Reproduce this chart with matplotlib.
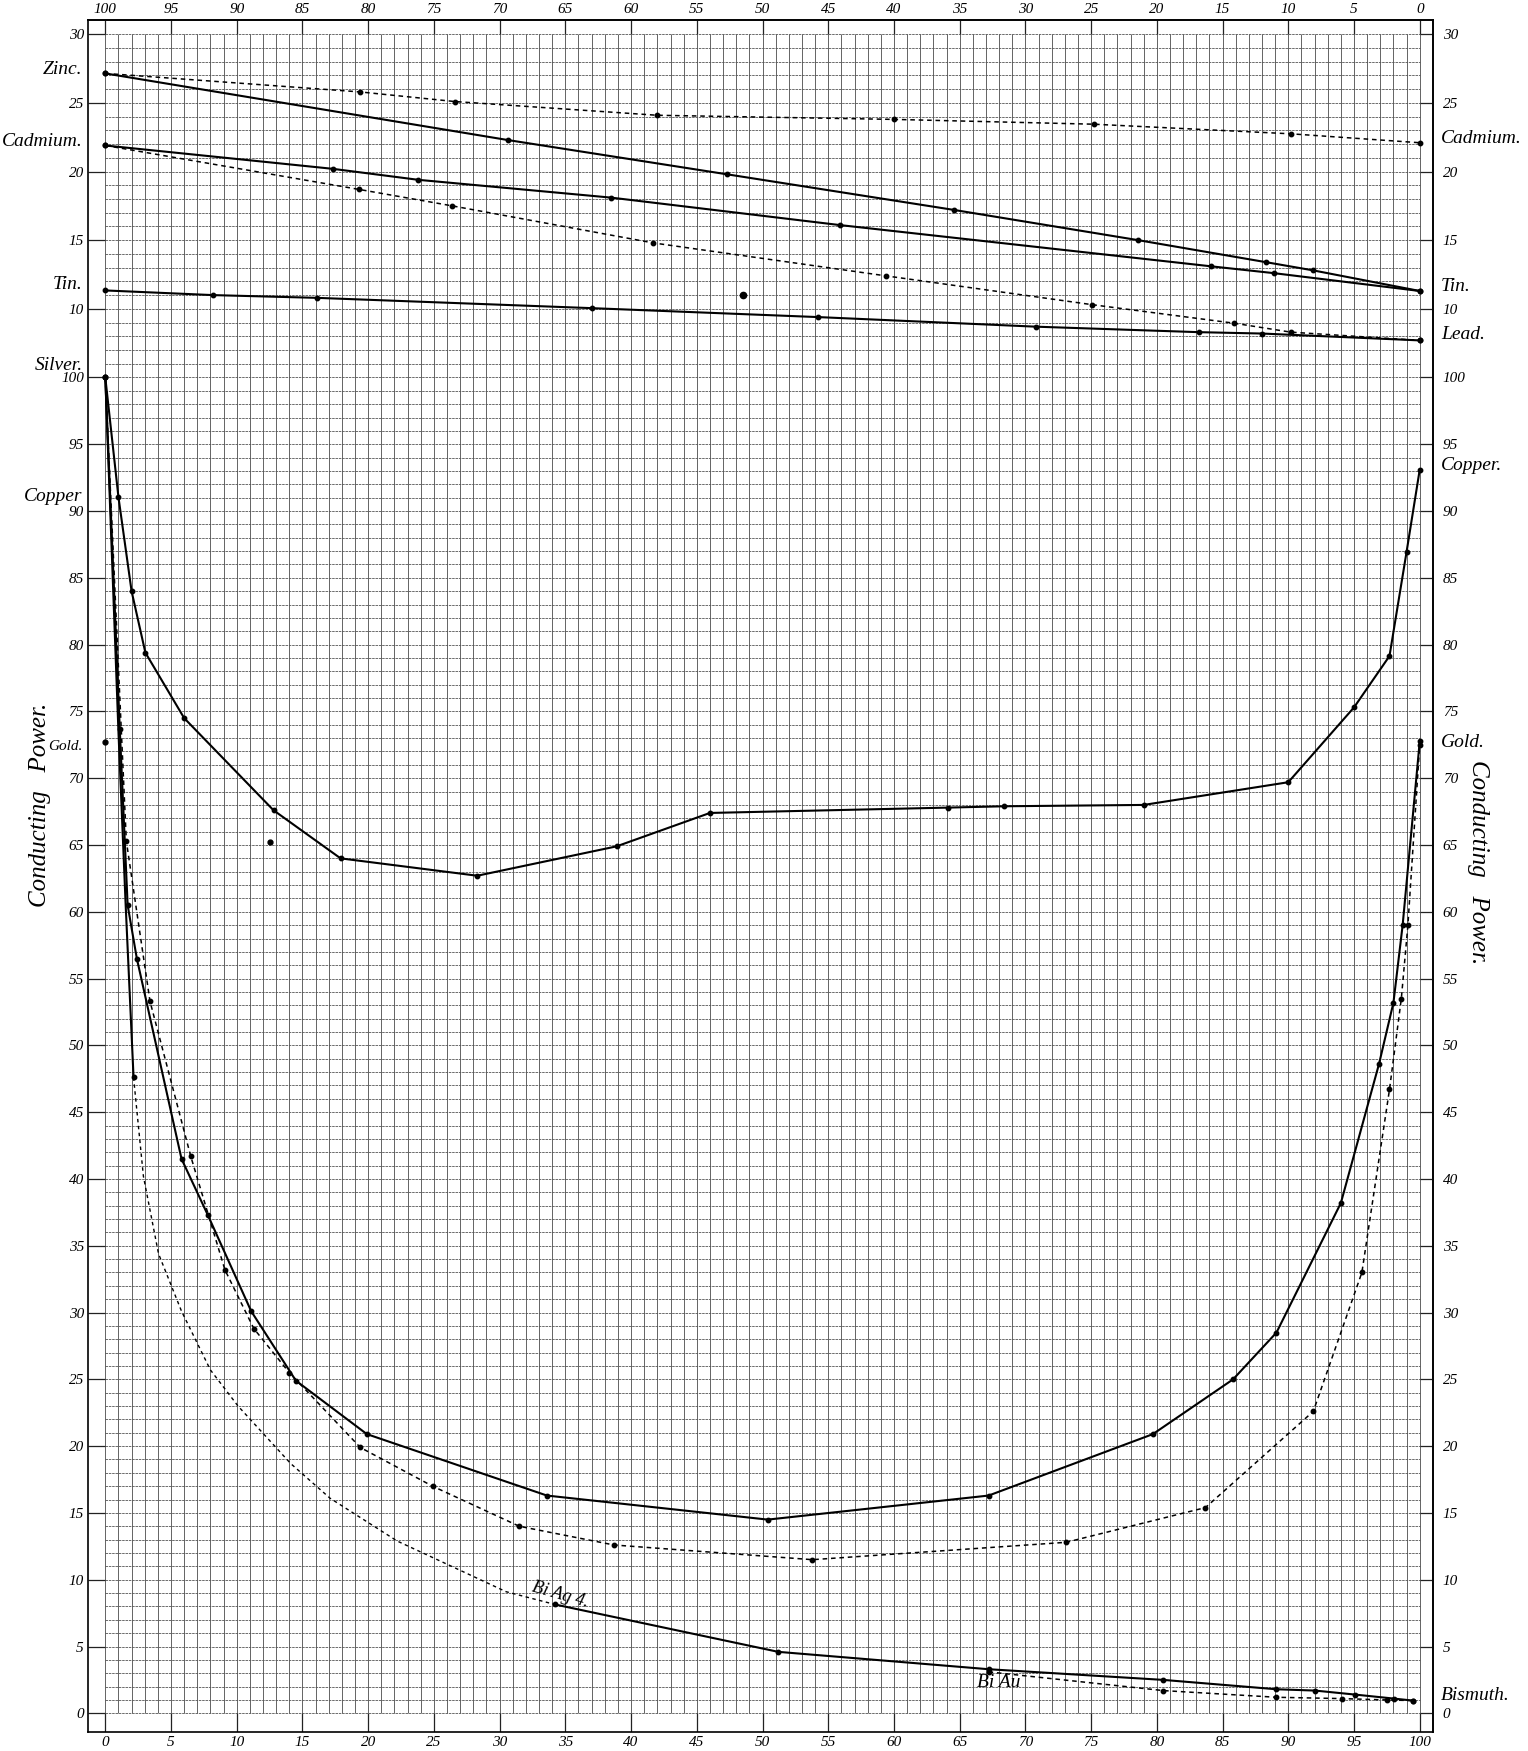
import numpy as np
import matplotlib.pyplot as plt

plt.rcParams['font.family'] = ['Liberation Serif', 'DejaVu Serif']
plt.rcParams['font.style'] = 'italic'

# upper group is read on the 0-30 scale, its 5 sits on the lower scale's 100
K_TOP = 1.0276
def top_y(v):
    return 100 + (np.asarray(v, dtype=float) - 5) * K_TOP

# ---- upper group (scale 0-30) ----
zn_sn_x = [0, 30.6, 47.3, 64.6, 78.6, 88.3, 91.9, 100]
zn_sn_v = [27.15, 22.3, 19.8, 17.2, 15.0, 13.4, 12.8, 11.3]

cd_sn_x = [0, 17.3, 23.8, 38.5, 55.9, 84.1, 88.9, 100]
cd_sn_v = [21.9, 20.2, 19.4, 18.1, 16.1, 13.1, 12.6, 11.3]

zn_cd_x = [0, 19.4, 26.6, 42.0, 60.0, 75.2, 90.2, 100]
zn_cd_v = [27.15, 25.8, 25.1, 24.1, 23.8, 23.45, 22.75, 22.1]

cd_pb_x = [0, 19.3, 26.4, 41.7, 59.4, 75.1, 85.9, 90.2, 100]
cd_pb_v = [21.9, 18.7, 17.5, 14.8, 12.4, 10.3, 8.95, 8.3, 7.7]

sn_pb_x = [0, 8.2, 16.1, 37.0, 54.2, 70.8, 83.2, 88.0, 100]
sn_pb_v = [11.34, 11.0, 10.8, 10.05, 9.4, 8.7, 8.3, 8.2, 7.7]

stray_top_x = [48.5]
stray_top_v = [11.0]

# ---- lower group (scale 0-100) ----
ag_cu_x = [0, 1.0, 2.0, 3.05, 6.0, 12.8, 17.9, 28.3, 38.9, 46.0, 64.1, 68.4,
           79.0, 90.0, 95.0, 97.7, 99.0, 100]
ag_cu_y = [100, 91.05, 84.0, 79.4, 74.5, 67.6, 64.0, 62.7, 64.9, 67.4, 67.8,
           67.9, 68.0, 69.7, 75.3, 79.15, 86.95, 93.1]

ag_au_x = [0, 1.1, 1.7, 2.4, 5.8, 7.8, 11.1, 14.5, 19.9, 33.6, 50.4, 67.2,
           79.7, 85.8, 89.1, 94.0, 96.9, 98.0, 98.7, 100]
ag_au_y = [100, 73.7, 60.5, 56.5, 41.5, 37.3, 30.1, 24.9, 20.9, 16.3, 14.5,
           16.3, 20.9, 25.0, 28.5, 38.2, 48.6, 53.2, 59.0, 72.75]

u_dash_x = [0, 1.6, 3.4, 6.5, 9.1, 11.3, 14.0, 19.4, 24.9, 31.5, 38.7, 53.8,
            73.1, 83.7, 91.9, 95.6, 97.7, 98.6, 99.1, 100]
u_dash_y = [100, 65.3, 53.3, 41.7, 33.2, 28.8, 25.5, 19.9, 17.0, 14.0, 12.6,
            11.5, 12.8, 15.4, 22.6, 33.0, 46.7, 53.5, 59.0, 72.5]

ag_bi_x = [0, 1.0, 1.55, 2.15]
ag_bi_y = [100, 73.5, 60.5, 47.6]

ag_bi_gap_x = [2.15, 2.9, 4.05, 5.8, 8.0, 10.1, 14.1, 17.1, 22.2, 30.5, 34.2]
ag_bi_gap_y = [47.6, 40.2, 34.4, 30.1, 25.7, 23.0, 18.7, 16.1, 12.9, 9.1, 8.15]

bi_x = [34.2, 51.2, 67.2, 80.5, 89.1, 92.05, 95.1, 98.05, 99.5]
bi_y = [8.15, 4.6, 3.3, 2.5, 1.8, 1.7, 1.4, 1.1, 0.95]

bi_au_x = [67.2, 80.5, 89.1, 94.1, 97.5, 99.5]
bi_au_y = [3.1, 1.7, 1.2, 1.1, 1.0, 0.95]

stray_x = [0, 12.5]
stray_y = [72.7, 65.2]

# ticks and names
x_ticks = list(range(0, 101, 5))
low_ticks = list(range(0, 101, 5))
top_ticks = [10, 15, 20, 25, 30]

left_names = ["Zinc.", "Cadmium.", "Tin.", "Silver.", "Copper", "Gold."]
left_pos = [top_y(27.4), top_y(22.2), top_y(11.75), 100.9, 91.1, 72.4]
left_size = [14, 14, 14, 14, 14, 11]
right_names = ["Cadmium.", "Tin.", "Lead.", "Copper.", "Gold.", "Bismuth."]
right_pos = [top_y(22.4), top_y(11.6), top_y(8.1), 93.4, 72.7, 1.35]

# ------------------------------------------------------------------
fig = plt.figure(figsize=(15.28, 17.51), dpi=100)
ax = fig.add_axes([0.05759, 0.01085, 0.88024, 0.97773])

x_lo, x_hi = -1.316, 101.01
y_lo, y_hi = -1.40, 126.76
y_top = float(top_y(30))
ax.set_xlim(x_lo, x_hi)
ax.set_ylim(y_lo, y_hi)

# squared paper
ax.vlines(np.arange(0, 101), 0, y_top, color='#4a4a4a', lw=0.6, zorder=1)
ax.hlines(np.arange(0, 101), 0, 100, color='#555555', lw=0.6,
          linestyles=(0, (3, 1)), zorder=1)
ax.hlines(top_y(np.arange(6, 31)), 0, 100, color='#555555', lw=0.6,
          linestyles=(0, (3, 1)), zorder=1)

# tick strokes between frame and paper
tick_kw = dict(color='#222222', lw=0.9, zorder=1)
ax.vlines(x_ticks, y_lo, 0, **tick_kw)
ax.vlines(x_ticks, y_top, y_hi, **tick_kw)
y_all = low_ticks + list(top_y(top_ticks))
ax.hlines(y_all, x_lo, 0, **tick_kw)
ax.hlines(y_all, 100, x_hi, **tick_kw)

solid = dict(color='black', lw=1.5, marker='o', ms=3.2, zorder=3)
dashed = dict(color='black', lw=1.1, ls=(0, (3, 2.5)), marker='o', ms=3.2, zorder=3)

ax.plot(zn_sn_x, top_y(zn_sn_v), **solid)
ax.plot(cd_sn_x, top_y(cd_sn_v), **solid)
ax.plot(sn_pb_x, top_y(sn_pb_v), **solid)
ax.plot(zn_cd_x, top_y(zn_cd_v), **dashed)
ax.plot(cd_pb_x, top_y(cd_pb_v), **dashed)
ax.plot(stray_top_x, top_y(stray_top_v), 'o', color='black', ms=4.5, zorder=3)

ax.plot(ag_cu_x, ag_cu_y, **solid)
ax.plot(ag_au_x, ag_au_y, **solid)
ax.plot(u_dash_x, u_dash_y, **dashed)
ax.plot(ag_bi_x, ag_bi_y, color='black', lw=1.5, zorder=3)
ax.plot(ag_bi_x[-1:], ag_bi_y[-1:], 'o', color='black', ms=3.2, zorder=3)
ax.plot(ag_bi_gap_x, ag_bi_gap_y, color='black', lw=1.0, ls=(0, (2.5, 2.5)), zorder=3)
ax.plot(bi_x, bi_y, **solid)
ax.plot(bi_au_x, bi_au_y, **dashed)
ax.plot(stray_x, stray_y, 'o', color='black', ms=3.5, zorder=3)

ax.text(34.6, 8.9, "Bi Ag 4.", fontsize=13, rotation=-16, ha='center', va='center')
ax.text(68.0, 2.3, "Bi Au", fontsize=14, ha='center', va='center')

# tick labels
num_font = 11
ax.set_xticks(x_ticks, [str(t) for t in x_ticks])
ax.set_yticks(y_all, [str(t) for t in low_ticks] + [str(t) for t in top_ticks])
ax.tick_params(length=0, labelsize=num_font, pad=3)
top_ax = ax.secondary_xaxis('top', functions=(lambda x: x, lambda x: x))
top_ax.set_xticks(x_ticks, [str(100 - t) for t in x_ticks])
top_ax.tick_params(length=0, labelsize=num_font, pad=3)
right_ax = ax.secondary_yaxis('right', functions=(lambda y: y, lambda y: y))
right_ax.set_yticks(y_all, [str(t) for t in low_ticks] + [str(t) for t in top_ticks])
right_ax.tick_params(length=0, labelsize=num_font, pad=7)
for a in (ax, top_ax, right_ax):
    for lab in a.get_xticklabels() + a.get_yticklabels():
        lab.set_fontstyle('italic')
for s in ax.spines.values():
    s.set_linewidth(1.2)
for a in (top_ax, right_ax):
    for s in a.spines.values():
        s.set_linewidth(1.2)

# metal names
yt = ax.get_yaxis_transform()
for name, yy, fs in zip(left_names, left_pos, left_size):
    ax.text(-0.004, yy, name, transform=yt, ha='right', va='center', fontsize=fs)
for name, yy in zip(right_names, right_pos):
    ax.text(1.006, yy, name, transform=yt, ha='left', va='center', fontsize=14)

fig.text(40 / 1528, 1 - 805 / 1751, "Conducting   Power.", rotation=90,
         ha='center', va='center', fontsize=18)
fig.text(1478 / 1528, 1 - 862 / 1751, "Conducting   Power.", rotation=-90,
         ha='center', va='center', fontsize=18)

fig.savefig("out.png", dpi=100, facecolor='white')
